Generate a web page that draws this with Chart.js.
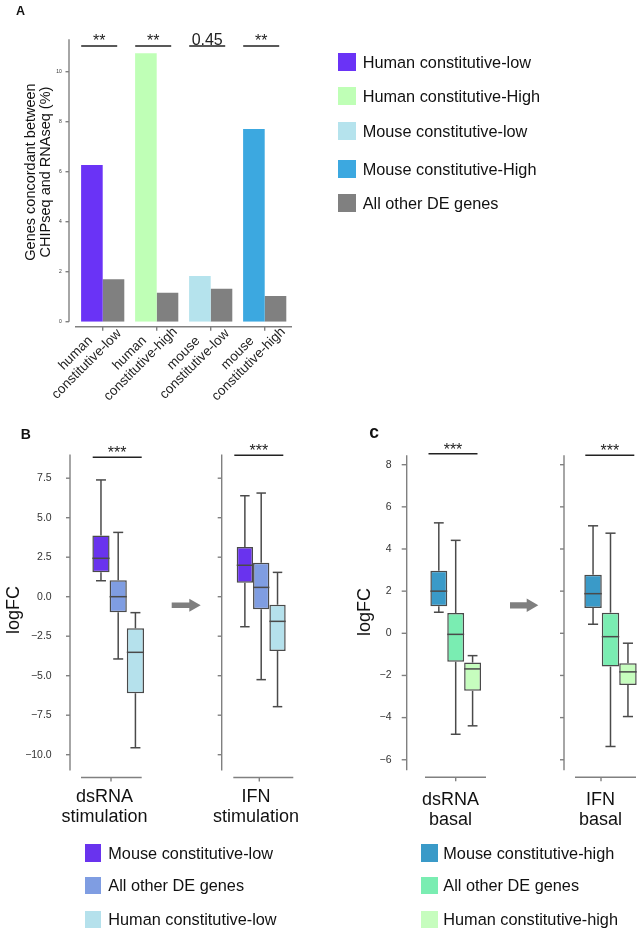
<!DOCTYPE html>
<html>
<head>
<meta charset="utf-8">
<script src="https://cdn.jsdelivr.net/npm/chart.js@4.4.0/dist/chart.umd.min.js"></script>
<style>
html, body { margin: 0; padding: 0; background: #fff; overflow: hidden; width: 640px; height: 931px; position: relative;
  font-family: "Liberation Sans", Arial, sans-serif; color: #111; }
canvas { position: absolute; left: 0; top: 0; }
.t { position: absolute; line-height: 1; white-space: nowrap; }
.sw { position: absolute; }
</style>
</head>
<body>
<canvas id="chartA" width="700" height="931"></canvas>
<canvas id="chartBL" width="700" height="931"></canvas>
<canvas id="chartBR" width="700" height="931"></canvas>
<canvas id="chartCL" width="700" height="931"></canvas>
<canvas id="chartCR" width="700" height="931"></canvas>
<script>
// ---- panel A: % genes concordant between ChIPseq and RNAseq
const groupLabels = [['human', 'constitutive-low'], ['human', 'constitutive-high'], ['mouse', 'constitutive-low'], ['mouse', 'constitutive-high']];
const concordant = [6.27, 10.74, 1.83, 7.71];
const concordantOther = [1.70, 1.16, 1.32, 1.03];
const pValues = ['**', '**', '0.45', '**'];
const legendA = ['Human constitutive-low', 'Human constitutive-High', 'Mouse constitutive-low', 'Mouse constitutive-High', 'All other DE genes'];
const colorsA = ['#6a33f6', '#bfffb6', '#b5e3ed', '#3ca8e0', '#808080'];
const ticksA = [0, 2, 4, 6, 8, 10];

// ---- panel B: logFC boxes (min, q1, median, q3, max)
const seriesB = ['Mouse constitutive-low', 'All other DE genes', 'Human constitutive-low'];
const colorsB = ['#6933ee', '#7f9de2', '#b5e1ec'];
const mouseLowDsRna = [1.01, 1.54, 2.43, 3.88, 7.39];
const otherDsRnaB = [-3.94, -0.99, 0.0, 1.04, 4.07];
const humanLowDsRna = [-9.56, -6.11, -3.52, -2.0, -1.01];
const mouseLowIfn = [-1.90, 0.89, 1.99, 3.15, 6.39];
const otherIfnB = [-5.25, -0.80, 0.59, 2.15, 6.56];
const humanLowIfn = [-6.96, -3.44, -1.56, -0.51, 1.54];
const ticksB = [-10, -7.5, -5, -2.5, 0, 2.5, 5, 7.5];

// ---- panel C
const seriesC = ['Mouse constitutive-high', 'All other DE genes', 'Human constitutive-high'];
const colorsC = ['#3a9ac8', '#7aedb2', '#c6fdbe'];
const mouseHighDsRna = [1.0, 1.28, 2.0, 2.97, 5.24];
const otherDsRnaC = [-4.79, -1.35, -0.05, 0.96, 4.41];
const humanHighDsRna = [-4.39, -2.73, -1.69, -1.39, -1.06];
const mouseHighIfn = [0.43, 1.2, 1.88, 2.78, 5.1];
const otherIfnC = [-5.37, -1.58, -0.16, 0.98, 4.75];
const humanHighIfn = [-3.95, -2.45, -1.83, -1.42, -0.47];
const ticksC = [-6, -4, -2, 0, 2, 4, 6, 8];

const FONT = '"Liberation Sans", Arial, sans-serif';
const AXIS = '#808080';
const INK = '#4a4a4a';

function addText(html, x, base, size, o = {}) {
  const d = document.createElement('div');
  d.className = 't';
  d.style.fontSize = size + 'px';
  if (o.bold) d.style.fontWeight = 'bold';
  d.innerHTML = html;
  d.style.top = (base - 0.8465 * size) + 'px';
  d.style.left = x + 'px';
  if (o.center) d.style.transform = 'translateX(-50%)';
  document.body.appendChild(d);
}

function addRotated(html, cx, cy, size, lh) {
  const d = document.createElement('div');
  d.className = 't';
  d.style.fontSize = size + 'px';
  d.style.lineHeight = lh + 'px';
  d.style.textAlign = 'center';
  d.innerHTML = html;
  d.style.left = cx + 'px';
  d.style.top = cy + 'px';
  d.style.transform = 'translate(-50%,-50%) rotate(-90deg)';
  document.body.appendChild(d);
}

function addLegend(names, colors, sqLeft, txtLeft, tops, sq) {
  names.forEach((n, i) => {
    const s = document.createElement('div');
    s.className = 'sw';
    Object.assign(s.style, { left: sqLeft + 'px', top: tops[i] + 'px', width: sq[0] + 'px', height: sq[1] + 'px', background: colors[i] });
    document.body.appendChild(s);
    addText(n, txtLeft, tops[i] + sq[1] / 2 + 5.8, 16.3);
  });
}

function line(ctx, x0, y0, x1, y1) {
  ctx.beginPath();
  ctx.moveTo(x0, y0);
  ctx.lineTo(x1, y1);
  ctx.stroke();
}

// whiskers under the boxes, medians on top
const boxPlugin = {
  id: 'boxes',
  beforeDatasetsDraw(chart) {
    const ctx = chart.ctx, y = chart.scales.y;
    ctx.save();
    ctx.strokeStyle = INK;
    ctx.lineWidth = 1.5;
    chart.data.datasets.forEach((ds, i) => {
      const el = chart.getDatasetMeta(i).data[0];
      const s = ds.stats, cap = el.width * 0.29;
      line(ctx, el.x, y.getPixelForValue(s[0]), el.x, y.getPixelForValue(s[1]));
      line(ctx, el.x, y.getPixelForValue(s[3]), el.x, y.getPixelForValue(s[4]));
      line(ctx, el.x - cap, y.getPixelForValue(s[0]), el.x + cap, y.getPixelForValue(s[0]));
      line(ctx, el.x - cap, y.getPixelForValue(s[4]), el.x + cap, y.getPixelForValue(s[4]));
    });
    ctx.restore();
  },
  afterDatasetsDraw(chart) {
    const ctx = chart.ctx, y = chart.scales.y;
    ctx.save();
    ctx.strokeStyle = INK;
    ctx.lineWidth = 1.5;
    chart.data.datasets.forEach((ds, i) => {
      const el = chart.getDatasetMeta(i).data[0];
      const py = y.getPixelForValue(ds.stats[2]);
      line(ctx, el.x - el.width / 2, py, el.x + el.width / 2, py);
    });
    ctx.restore();
  }
};

// axis lines, ticks, significance bars, arrows
const framePlugin = {
  id: 'frame',
  afterDraw(chart, args, o) {
    const ctx = chart.ctx, a = chart.chartArea, x = chart.scales.x, y = chart.scales.y;
    ctx.save();
    ctx.strokeStyle = AXIS;
    ctx.lineWidth = 1.4;
    const ax = a.left - (o.yGap || 0);
    line(ctx, ax, a.top, ax, a.bottom);
    ctx.font = o.tickFont + 'px ' + FONT;
    ctx.fillStyle = '#333';
    ctx.textAlign = 'right';
    ctx.textBaseline = 'middle';
    o.ticks.forEach(v => {
      const py = y.getPixelForValue(v);
      line(ctx, ax - o.tickLen, py, ax, py);
      if (o.labels) ctx.fillText(o.fmt(v), ax - o.labelGap, py);
    });
    // short x axis
    const by = a.bottom + o.xGap;
    line(ctx, a.left + o.xAxis[0], by, a.left + o.xAxis[1], by);
    o.xTicks.forEach(t => line(ctx, t, by, t, by + 4));
    // significance
    ctx.strokeStyle = '#222';
    ctx.fillStyle = '#222';
    ctx.lineWidth = 1.5;
    ctx.textAlign = 'center';
    ctx.textBaseline = 'alphabetic';
    ctx.font = '16px ' + FONT;
    o.sig.forEach(s => {
      const py = y.getPixelForValue(s.value);
      line(ctx, s.cx - s.half, py, s.cx + s.half, py);
      ctx.fillText(s.text, s.cx, py + s.dy);
    });
    if (o.arrow) {
      const r = o.arrow;
      ctx.fillStyle = '#7f7f7f';
      ctx.beginPath();
      ctx.moveTo(r.x0, r.y - r.s);
      ctx.lineTo(r.xh, r.y - r.s);
      ctx.lineTo(r.xh, r.y - r.h);
      ctx.lineTo(r.x1, r.y);
      ctx.lineTo(r.xh, r.y + r.h);
      ctx.lineTo(r.xh, r.y + r.s);
      ctx.lineTo(r.x0, r.y + r.s);
      ctx.closePath();
      ctx.fill();
    }
    if (o.groupText) {
      ctx.fillStyle = '#222';
      ctx.font = '13.5px ' + FONT;
      ctx.textBaseline = 'middle';
      chart.data.labels.forEach((lines, i) => {
        const tx = x.getPixelForValue(i);
        ctx.save();
        ctx.translate(tx - 21.5, by + 32);
        ctx.rotate(-Math.PI / 4);
        lines.forEach((l, k) => ctx.fillText(l, 0, (k - (lines.length - 1) / 2) * 15.5));
        ctx.restore();
      });
    }
    ctx.restore();
  }
};

const fmtB = v => v.toFixed(1).replace('-', '\u2212');
const fmtC = v => String(v).replace('-', '\u2212');

// ---- chart A
new Chart(document.getElementById('chartA'), {
  type: 'bar',
  data: {
    labels: groupLabels,
    datasets: [
      { label: 'constitutive', data: concordant, backgroundColor: colorsA.slice(0, 4) },
      { label: legendA[4], data: concordantOther, backgroundColor: colorsA[4] }
    ]
  },
  options: {
    responsive: false, animation: false, devicePixelRatio: 1,
    layout: { padding: { left: 75.7, right: 700 - 291.7, top: 39.2, bottom: 931 - 321.7 } },
    datasets: { bar: { categoryPercentage: 0.8, barPercentage: 1 } },
    scales: { x: { display: false }, y: { display: false, min: 0, max: 11.3 } },
    plugins: {
      legend: { display: false }, tooltip: { enabled: false },
      frame: {
        yGap: 6.7, ticks: ticksA, labels: true, tickLen: 3.5, labelGap: 7.3, tickFont: 5, fmt: v => String(v),
        xGap: 5, xAxis: [-0.7, 216.3], xTicks: [], groupText: true,
        sig: []
      }
    }
  },
  plugins: [framePlugin, {
    id: 'sigA',
    afterDraw(chart) {
      const ctx = chart.ctx, x = chart.scales.x, y = chart.scales.y, a = chart.chartArea;
      ctx.save();
      ctx.strokeStyle = AXIS;
      ctx.lineWidth = 1.4;
      pValues.forEach((p, i) => {
        const tx = x.getPixelForValue(i);
        line(ctx, tx, a.bottom + 5, tx, a.bottom + 9);
      });
      ctx.strokeStyle = '#222';
      ctx.fillStyle = '#222';
      ctx.lineWidth = 1.5;
      ctx.font = '16px ' + FONT;
      ctx.textAlign = 'center';
      const py = y.getPixelForValue(11.03);
      pValues.forEach((p, i) => {
        const cx = x.getPixelForValue(i) - 3.5;
        line(ctx, cx - 18, py, cx + 18, py);
        ctx.fillText(p, cx, py + (p === '**' ? 0.5 : -1));
      });
      ctx.restore();
    }
  }]
});

// ---- box panels
function boxChart(id, c) {
  return new Chart(document.getElementById(id), {
    type: 'bar',
    data: {
      labels: [c.label],
      datasets: c.stats.map((s, i) => ({
        label: c.names[i], data: [[s[1], s[3]]], stats: s,
        backgroundColor: c.colors[i], borderColor: INK, borderWidth: 1.5, borderSkipped: false
      }))
    },
    options: {
      responsive: false, animation: false, devicePixelRatio: 1,
      layout: { padding: { left: c.left, right: 700 - c.right, top: c.top, bottom: 931 - c.bottom } },
      datasets: { bar: { categoryPercentage: c.catPct, barPercentage: 1 } },
      scales: { x: { display: false }, y: { display: false, min: c.min, max: c.max } },
      plugins: { legend: { display: false }, tooltip: { enabled: false }, frame: c.frame }
    },
    plugins: [boxPlugin, framePlugin]
  });
}

boxChart('chartBL', {
  label: 'dsRNA stimulation', names: seriesB, colors: colorsB,
  stats: [mouseLowDsRna, otherDsRnaB, humanLowDsRna],
  left: 70, right: 166.4, top: 454.5, bottom: 770.5, min: -11, max: 9, catPct: 0.536,
  frame: { ticks: ticksB, labels: true, tickLen: 4, labelGap: 18.3, tickFont: 10.5, fmt: fmtB,
    xGap: 7, xAxis: [11, 71.7], xTicks: [111],
    sig: [{ value: 8.82, cx: 117.2, half: 24.5, text: '***', dy: 0.5 }] }
});
boxChart('chartBR', {
  label: 'IFN stimulation', names: seriesB, colors: colorsB,
  stats: [mouseLowIfn, otherIfnB, humanLowIfn],
  left: 221.7, right: 300.7, top: 454.5, bottom: 770.5, min: -11, max: 9, catPct: 0.62,
  frame: { ticks: ticksB, labels: false, tickLen: 4, tickFont: 10.5, fmt: fmtB,
    xGap: 7, xAxis: [11.6, 71.6], xTicks: [259.3],
    sig: [{ value: 8.95, cx: 258.8, half: 24.5, text: '***', dy: 0.5 }],
    arrow: { x0: 171.7, xh: 189.3, x1: 200.7, y: 605.3, s: 2.8, h: 6.5 } }
});
boxChart('chartCL', {
  label: 'dsRNA basal', names: seriesC, colors: colorsC,
  stats: [mouseHighDsRna, otherDsRnaC, humanHighDsRna],
  left: 406.7, right: 504.7, top: 455.2, bottom: 770.3, min: -6.5, max: 8.45, catPct: 0.517,
  frame: { ticks: ticksC, labels: true, tickLen: 5, labelGap: 15.2, tickFont: 10.5, fmt: fmtC,
    xGap: 7, xAxis: [18.3, 79.3], xTicks: [455.7],
    sig: [{ value: 8.52, cx: 453, half: 24.5, text: '***', dy: 1 }] }
});
boxChart('chartCR', {
  label: 'IFN basal', names: seriesC, colors: colorsC,
  stats: [mouseHighIfn, otherIfnC, humanHighIfn],
  left: 564, right: 657, top: 455.2, bottom: 770.3, min: -6.5, max: 8.45, catPct: 0.563,
  frame: { ticks: ticksC, labels: false, tickLen: 4, tickFont: 10.5, fmt: fmtC,
    xGap: 7, xAxis: [11, 72], xTicks: [601],
    sig: [{ value: 8.45, cx: 609.8, half: 24.5, text: '***', dy: 1 }],
    arrow: { x0: 510, xh: 526.7, x1: 538.3, y: 605.3, s: 3.1, h: 6.7 } }
});

// ---- text and legends
addText('A', 16, 15.7, 12.5, { bold: true });
addText('B', 20.7, 439.3, 14, { bold: true });
addText('c', 369.3, 439.3, 17.5, { bold: true });
addRotated('Genes concordant between<br>CHIPseq and RNAseq (%)', 38, 172, 14.5, 15);
addRotated('logFC', 13, 610, 18, 18);
addRotated('logFC', 363.7, 611.7, 18, 18);
addText('dsRNA', 104.5, 802.3, 18, { center: true });
addText('stimulation', 104.5, 822.7, 18, { center: true });
addText('IFN', 256, 802.3, 18, { center: true });
addText('stimulation', 256, 822.7, 18, { center: true });
addText('dsRNA', 450.5, 805.7, 18, { center: true });
addText('basal', 450.5, 825.7, 18, { center: true });
addText('IFN', 600.5, 805.7, 18, { center: true });
addText('basal', 600.5, 825.7, 18, { center: true });

addLegend(legendA, colorsA, 338.3, 362.7, [53.3, 86.7, 121.7, 160, 194.3], [17.5, 18]);
addLegend(seriesB, colorsB, 85, 108.3, [844, 876.5, 910.7], [16, 17.5]);
addLegend(seriesC, colorsC, 421, 443.3, [844, 876.5, 910.7], [16.5, 17.5]);
</script>
</body>
</html>
